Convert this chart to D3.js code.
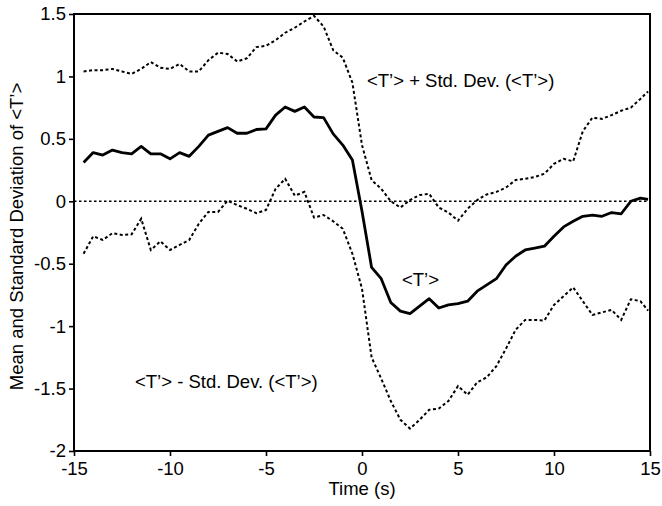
<!DOCTYPE html>
<html>
<head>
<meta charset="utf-8">
<script src="https://cdn.jsdelivr.net/npm/d3@7"></script>
<style>
  html, body { margin: 0; padding: 0; background: #fff; }
  svg { display: block; font-family: "Liberation Sans", Arial, Helvetica, sans-serif; }
</style>
</head>
<body>
<svg id="chart" width="662" height="506"></svg>
<script>
// ---- data ----
const time = [-14.5,-14,-13.5,-13,-12.5,-12,-11.5,-11,-10.5,-10,-9.5,-9,-8.5,-8,-7.5,-7,-6.5,-6,-5.5,-5,-4.5,-4,-3.5,-3,-2.5,-2,-1.5,-1,-0.5,0,0.5,1,1.5,2,2.5,3,3.5,4,4.5,5,5.5,6,6.5,7,7.5,8,8.5,9,9.5,10,10.5,11,11.5,12,12.5,13,13.5,14,14.5,14.9];

const meanT = [0.31,0.39,0.37,0.41,0.39,0.38,0.44,0.38,0.38,0.34,0.39,0.36,0.44,0.53,0.56,0.59,0.545,0.545,0.575,0.58,0.69,0.755,0.72,0.755,0.675,0.67,0.54,0.45,0.33,-0.08,-0.53,-0.62,-0.81,-0.88,-0.9,-0.84,-0.78,-0.855,-0.83,-0.82,-0.8,-0.72,-0.67,-0.62,-0.51,-0.44,-0.39,-0.375,-0.36,-0.28,-0.205,-0.16,-0.12,-0.11,-0.12,-0.09,-0.1,0.0,0.025,0.015];

const upperT = [1.04,1.05,1.05,1.06,1.04,1.02,1.06,1.115,1.07,1.06,1.1,1.04,1.04,1.13,1.19,1.18,1.12,1.145,1.235,1.245,1.29,1.35,1.39,1.44,1.485,1.4,1.21,1.15,0.95,0.45,0.17,0.1,0.0,-0.05,0.01,0.05,0.06,-0.05,-0.09,-0.155,-0.06,0.01,0.055,0.075,0.11,0.17,0.18,0.195,0.22,0.3,0.34,0.32,0.56,0.67,0.66,0.69,0.725,0.75,0.82,0.88];

const lowerT = [-0.42,-0.28,-0.31,-0.255,-0.27,-0.265,-0.14,-0.39,-0.32,-0.39,-0.35,-0.31,-0.18,-0.085,-0.085,0.005,-0.03,-0.06,-0.095,-0.07,0.1,0.18,0.045,0.075,-0.13,-0.11,-0.16,-0.22,-0.42,-0.7,-1.25,-1.42,-1.6,-1.75,-1.82,-1.75,-1.67,-1.66,-1.6,-1.48,-1.55,-1.45,-1.41,-1.32,-1.18,-1.03,-0.95,-0.95,-0.955,-0.83,-0.76,-0.69,-0.8,-0.91,-0.89,-0.87,-0.95,-0.785,-0.8,-0.875];

const xTicks = [-15,-10,-5,0,5,10,15];
const yTicks = [1.5,1,0.5,0,-0.5,-1,-1.5,-2];
const xDomain = [-15, 15];
const yDomain = [-2, 1.5];
const xTitle = "Time (s)";
const yTitle = "Mean and Standard Deviation of <T\u2019>";
const labelUpper = "<T\u2019> + Std. Dev. (<T\u2019>)";
const labelMean = "<T\u2019>";
const labelLower = "<T\u2019> - Std. Dev. (<T\u2019>)";

// ---- drawing ----
const svg = d3.select("#chart");
const L = 74, R = 650, T = 14, B = 451;
const x = d3.scaleLinear().domain(xDomain).range([L, R]);
const y = d3.scaleLinear().domain(yDomain).range([B, T]);

const xAxis = svg.append("g").attr("transform", `translate(0,${B})`)
  .call(d3.axisBottom(x).tickValues(xTicks).tickSize(5).tickSizeOuter(0).tickPadding(6).tickFormat(d => String(d)));
const yAxis = svg.append("g").attr("transform", `translate(${L},0)`)
  .call(d3.axisLeft(y).tickValues(yTicks).tickSize(5).tickSizeOuter(0).tickPadding(3).tickFormat(d => String(d)));
[xAxis, yAxis].forEach(g => {
  g.select(".domain").remove();
  g.selectAll(".tick line").attr("stroke", "#000").attr("stroke-width", 1.6);
  g.selectAll(".tick text").attr("fill", "#000").style("font-size", "18.5px")
    .style("font-family", "'Liberation Sans', Arial, sans-serif");
});

// frame
svg.append("rect").attr("x", L).attr("y", T).attr("width", R - L).attr("height", B - T)
  .attr("fill", "none").attr("stroke", "#000").attr("stroke-width", 2);

// zero line
svg.append("line").attr("x1", x(xDomain[0])).attr("x2", x(xDomain[1]))
  .attr("y1", y(0)).attr("y2", y(0))
  .attr("stroke", "#000").attr("stroke-width", 1.6).attr("stroke-dasharray", "2.5,2.5");

const line = d3.line().x((d, i) => x(time[i])).y(d => y(d));

svg.append("path").datum(upperT).attr("d", line).attr("fill", "none")
  .attr("stroke", "#000").attr("stroke-width", 2).attr("stroke-dasharray", "3,2.5");
svg.append("path").datum(lowerT).attr("d", line).attr("fill", "none")
  .attr("stroke", "#000").attr("stroke-width", 2).attr("stroke-dasharray", "3,2.5");
svg.append("path").datum(meanT).attr("d", line).attr("fill", "none")
  .attr("stroke", "#000").attr("stroke-width", 2.8).attr("stroke-linejoin", "round");

// annotations
const ann = [
  {t: labelUpper, x: 367, y: 87},
  {t: labelMean, x: 402, y: 286},
  {t: labelLower, x: 135, y: 388}
];
svg.selectAll("text.ann").data(ann).enter().append("text").attr("class", "ann")
  .attr("x", d => d.x).attr("y", d => d.y).text(d => d.t)
  .style("font-size", "18.5px").attr("fill", "#000");

// axis titles
svg.append("text").attr("x", (L + R) / 2).attr("y", 495).attr("text-anchor", "middle")
  .style("font-size", "18.5px").text(xTitle);
svg.append("text").attr("transform", `translate(23,${(T + B) / 2 + 4}) rotate(-90)`)
  .attr("text-anchor", "middle").style("font-size", "18.5px").text(yTitle);
</script>
</body>
</html>
